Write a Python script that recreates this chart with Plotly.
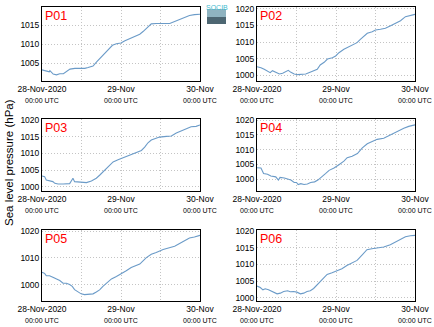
import plotly.graph_objects as go
import pandas as pd

# ---- data (hours after 28-Nov-2020 00:00 UTC, pressure hPa) ----
panel_names = ["P01", "P02", "P03", "P04", "P05", "P06"]

hours_p01 = [0, 1.4, 2.2, 2.4, 3.4, 4.4, 5.4, 6.5, 7.5, 8.5, 10, 11.5, 13, 14, 15.5, 16.6, 17.6, 19, 20, 21.4, 22.6, 24, 25.2, 26.7, 28.2, 29.7, 30.7, 31.7, 33.2, 34.7, 36.8, 38.8, 40.3, 41.8, 43.3, 44.8, 46.3, 48]
pres_p01 = [1003.3, 1003.0, 1002.8, 1003.1, 1002.2, 1002.0, 1002.3, 1002.3, 1002.8, 1003.5, 1003.7, 1003.7, 1003.7, 1003.9, 1004.3, 1005.4, 1006.3, 1007.6, 1008.4, 1009.7, 1010.1, 1010.3, 1010.9, 1011.5, 1012.1, 1012.6, 1013.3, 1014.2, 1015.3, 1015.4, 1015.4, 1015.4, 1015.9, 1016.5, 1017.0, 1017.5, 1017.7, 1017.8]

hours_p02 = [0, 1.2, 2.2, 3.2, 4.0, 4.7, 5.7, 6.8, 7.8, 8.8, 9.5, 10.3, 11.3, 12.3, 13.5, 14.8, 16.3, 17.3, 18.3, 19.2, 20.4, 21.4, 22.9, 23.9, 24.9, 26.4, 27.9, 29.4, 30.4, 31.4, 32.5, 33.5, 35, 36, 37.5, 39, 40.6, 42.1, 43.6, 45.1, 46.6, 48]
pres_p02 = [1002.6, 1002.3, 1001.8, 1001.3, 1000.8, 1001.4, 1000.8, 1000.4, 1000.6, 1001.2, 1001.5, 1000.9, 1000.4, 1000.2, 1000.3, 1000.4, 1001.0, 1001.3, 1001.8, 1003.1, 1003.9, 1004.9, 1005.3, 1005.8, 1006.8, 1007.8, 1008.6, 1009.4, 1009.8, 1010.8, 1011.8, 1012.6, 1013.1, 1013.6, 1013.8, 1014.1, 1014.9, 1015.6, 1016.4, 1017.6, 1017.9, 1018.3]

hours_p03 = [0, 0.8, 1.3, 2.3, 3.3, 3.9, 4.9, 6.4, 7.4, 8.4, 8.9, 9.4, 9.9, 10.9, 12.5, 13.5, 15, 16.5, 17.5, 18.5, 19.5, 20.5, 21.6, 23.1, 24.6, 26.1, 27.6, 29.2, 30.2, 31.2, 32.2, 33.2, 34.2, 35.7, 37.8, 39.3, 40.8, 42.3, 43.8, 45.3, 46.8, 48]
pres_p03 = [1003.3, 1003.1, 1002.1, 1001.8, 1001.6, 1001.1, 1000.9, 1000.9, 1000.9, 1001.0, 1001.8, 1002.6, 1001.6, 1001.5, 1001.2, 1001.3, 1001.8, 1002.6, 1003.5, 1004.5, 1005.7, 1006.6, 1007.5, 1008.1, 1008.7, 1009.4, 1010.1, 1010.6, 1010.9, 1011.9, 1013.2, 1014.0, 1014.4, 1014.9, 1015.1, 1015.2, 1016.1, 1016.7, 1017.3, 1018.0, 1018.1, 1018.5]

hours_p04 = [0, 1.2, 2.0, 3.2, 4.2, 5.7, 6.5, 7.0, 8.3, 9.3, 10.3, 11.3, 12.0, 12.5, 13.3, 14.3, 15.3, 16.3, 17.5, 18.5, 19.5, 20.8, 21.9, 23.4, 24.9, 26.4, 27.4, 28.9, 30.5, 32, 33.5, 35, 36.5, 38.5, 40, 41.5, 43, 44.6, 46.1, 48]
pres_p04 = [1003.9, 1003.8, 1001.9, 1001.7, 1001.1, 1000.8, 999.7, 1000.6, 1000.4, 1000.0, 999.7, 998.9, 998.9, 998.2, 998.5, 998.2, 998.4, 998.9, 999.1, 999.7, 1000.8, 1001.9, 1003.0, 1003.8, 1004.9, 1006.1, 1007.3, 1007.8, 1008.7, 1010.6, 1012.0, 1012.8, 1013.5, 1013.9, 1014.8, 1015.6, 1016.5, 1017.3, 1017.9, 1018.4]

hours_p05 = [0, 0.8, 1.3, 2.3, 3.3, 4.4, 5.4, 6.4, 7.4, 8.4, 9.2, 9.9, 10.9, 11.9, 12.9, 14, 15.5, 16.5, 17.5, 18.5, 20, 21.1, 22.6, 24.1, 25.6, 27.1, 28.7, 29.7, 30.7, 31.7, 33.2, 34.7, 36.8, 38.8, 40.3, 41.8, 43.3, 44.8, 46.3, 48]
pres_p05 = [1004.6, 1004.2, 1003.3, 1003.3, 1002.7, 1002.1, 1001.5, 1000.5, 1000.5, 1000.0, 999.3, 998.1, 997.4, 996.5, 996.2, 996.3, 996.5, 997.2, 998.0, 999.3, 1000.9, 1002.1, 1003.0, 1004.0, 1005.2, 1006.4, 1007.3, 1007.7, 1008.9, 1010.1, 1011.4, 1012.0, 1013.2, 1013.8, 1014.4, 1015.4, 1016.3, 1017.5, 1017.9, 1018.5]

hours_p06 = [0, 1.0, 1.8, 2.5, 3.5, 5.1, 6.1, 7.1, 8.1, 9.3, 10.1, 11.1, 12.1, 13.2, 14.2, 15.2, 16.2, 17.2, 18.2, 19.2, 20.3, 21.3, 22.8, 24.3, 25.8, 27.3, 28.8, 30.4, 31.9, 33.4, 34.9, 36.5, 38.5, 40.5, 42.1, 43.6, 45.1, 46.6, 48]
pres_p06 = [1003.5, 1003.1, 1002.4, 1002.7, 1002.4, 1001.7, 1001.2, 1001.4, 1001.9, 1002.1, 1001.8, 1001.9, 1001.7, 1001.2, 1001.4, 1001.9, 1002.1, 1002.8, 1003.8, 1004.8, 1005.8, 1007.0, 1007.5, 1008.2, 1008.7, 1009.7, 1010.4, 1011.2, 1012.8, 1014.4, 1014.7, 1015.0, 1015.2, 1015.9, 1016.7, 1017.4, 1018.3, 1018.6, 1018.7]

hours_all = [hours_p01, hours_p02, hours_p03, hours_p04, hours_p05, hours_p06]
pres_all = [pres_p01, pres_p02, pres_p03, pres_p04, pres_p05, pres_p06]

y_ranges = [[1000.4, 1019.7], [998.3, 1020.5], [998.8, 1020.3], [996.0, 1020.4], [994.0, 1020.5], [999.2, 1020.3]]
y_ticks_5 = [1000, 1005, 1010, 1015, 1020]
y_ticks_10 = [1000, 1010, 1020]
y_ticks_all = [[1005, 1010, 1015], y_ticks_5, y_ticks_5, y_ticks_5, y_ticks_10, y_ticks_5]

start = pd.Timestamp("2020-11-28 00:00")
x_tick_hours = [0, 12, 24, 36, 48]
x_tick_main = ["28-Nov-2020", "", "29-Nov", "", "30-Nov"]
x_tick_sub = ["00:00 UTC", "", "00:00 UTC", "", "00:00 UTC"]

# ---- layout geometry (paper fractions) ----
W, H = 434, 327
col_px = [(42, 200), (257, 415)]
row_px = [(7, 81), (119, 191), (230, 300.5)]

fig = go.Figure()
FONT = "Liberation Sans, Arial, sans-serif"
line_color = "#6b9bc8"
grid_color = "#c4c4c4"

tickvals = [start + pd.Timedelta(hours=h) for h in x_tick_hours]
ticktext = [(m + "<br><span style='font-size:7px'>" + s + "</span>") if m else "" for m, s in zip(x_tick_main, x_tick_sub)]

for i, name in enumerate(panel_names):
    r, c = divmod(i, 2)
    n = i + 1
    xs = [start + pd.Timedelta(hours=h) for h in hours_all[i]]
    xa = "x" if n == 1 else f"x{n}"
    ya = "y" if n == 1 else f"y{n}"
    fig.add_trace(go.Scatter(x=xs, y=pres_all[i], mode="lines",
                             line=dict(color=line_color, width=1.1),
                             xaxis=xa, yaxis=ya, showlegend=False))
    x0, x1 = col_px[c]
    t, b = row_px[r]
    xkey = "xaxis" if n == 1 else f"xaxis{n}"
    ykey = "yaxis" if n == 1 else f"yaxis{n}"
    fig.update_layout(**{
        xkey: dict(domain=[x0 / W, x1 / W], anchor=ya, type="date",
                   range=[tickvals[0], tickvals[-1]], automargin=False,
                   tickmode="array", tickvals=tickvals, ticktext=ticktext,
                   showgrid=True, gridcolor=grid_color, griddash="1px,2px", gridwidth=1,
                   showline=True, linecolor="black", linewidth=1, mirror=True,
                   ticks="", tickfont=dict(size=8.5, color="black", family=FONT),
                   zeroline=False),
        ykey: dict(domain=[1 - b / H, 1 - t / H], anchor=xa, automargin=False,
                   range=y_ranges[i], tickmode="array", tickvals=y_ticks_all[i],
                   ticktext=[str(v) for v in y_ticks_all[i]],
                   showgrid=True, gridcolor=grid_color, griddash="1px,2px", gridwidth=1,
                   showline=True, linecolor="black", linewidth=1, mirror=True,
                   ticks="", tickfont=dict(size=8.5, color="black", family=FONT),
                   zeroline=False),
    })
    fig.add_annotation(text=name, xref=f"{xa} domain", yref=f"{ya} domain",
                       x=0.005, y=1.0, xanchor="left", yanchor="top", showarrow=False,
                       font=dict(size=12.5, color="red", family=FONT))

# y-axis title
fig.add_annotation(text="Sea level pressure (hPa)", xref="paper", yref="paper",
                   x=9 / W, y=1 - 163 / H, textangle=-90, showarrow=False,
                   xanchor="center", yanchor="middle",
                   font=dict(size=11.5, color="black", family=FONT))

# logo (SOCIB)
fig.add_shape(type="rect", xref="paper", yref="paper",
              x0=207 / W, x1=226 / W, y0=1 - 17 / H, y1=1 - 9 / H,
              fillcolor="#8fb3c0", line=dict(width=0), layer="above")
fig.add_shape(type="rect", xref="paper", yref="paper",
              x0=207 / W, x1=226 / W, y0=1 - 24 / H, y1=1 - 17 / H,
              fillcolor="#4d6672", line=dict(width=0), layer="above")
fig.add_annotation(text="SOCIB", xref="paper", yref="paper", x=216.5 / W, y=1 - 2 / H,
                   xanchor="center", yanchor="top", showarrow=False,
                   font=dict(size=7, color="#3fbcd0", family=FONT))

fig.update_layout(template="none", width=W, height=H, margin=dict(l=0, r=0, t=0, b=0, pad=0),
                  paper_bgcolor="white", plot_bgcolor="white",
                  font=dict(family=FONT, color="black"))

fig.write_html("out.html")
